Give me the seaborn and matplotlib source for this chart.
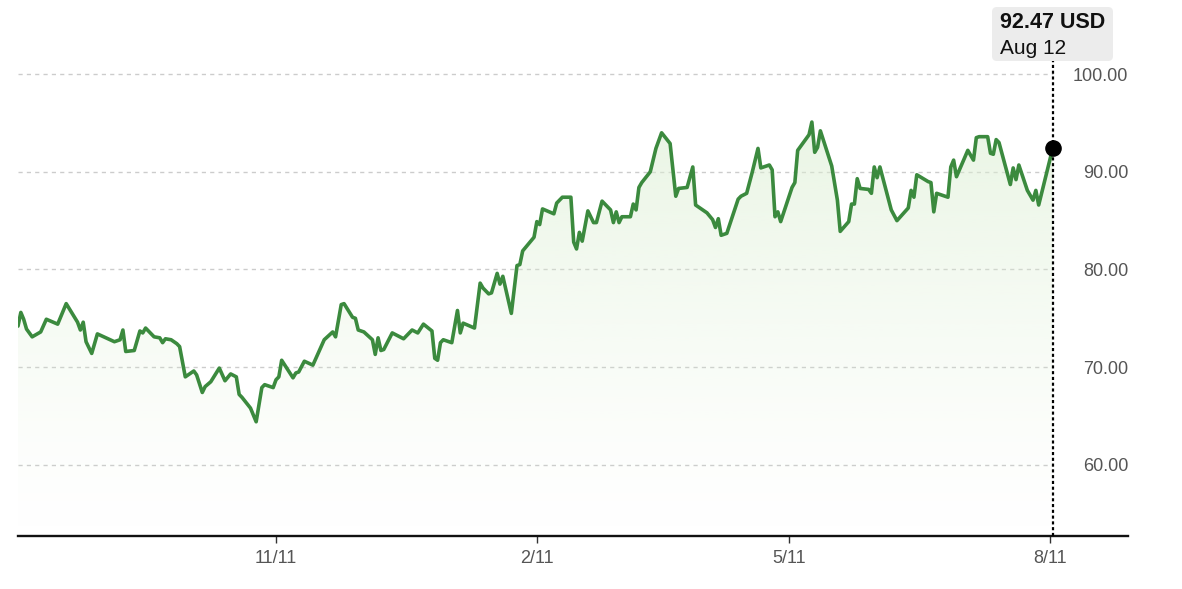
import numpy as np
import pandas as pd
import matplotlib
matplotlib.use("Agg")
import matplotlib.pyplot as plt
import matplotlib.dates as mdates
from matplotlib.colors import to_rgb
from matplotlib.patches import FancyBboxPatch
import seaborn as sns

# --- data (days since start date, closing price) ---
start_date = "2024-08-12"
end_view = "2025-09-07 12:00"

day_offset = [
    0, 1, 2, 3, 5, 8, 10, 14, 17, 21,
    22, 23, 24, 26, 28, 34, 36, 37, 38, 41,
    43, 44, 45, 48, 50, 51, 52, 54, 56, 57,
    59, 62, 63, 65, 66, 68, 71, 73, 75, 77,
    78, 79, 82, 84, 86, 87, 90, 91, 92, 93,
    97, 98, 99, 101, 104, 108, 111, 112, 114, 115,
    118, 119, 120, 122, 125, 126, 127, 128, 129, 132,
    136, 139, 141, 143, 146, 147, 148, 149, 150, 153,
    155, 156, 157, 161, 163, 164, 166, 167, 169, 170,
    171, 174, 176, 177, 178, 182, 183, 184, 185, 189,
    190, 192, 195, 196, 197, 198, 199, 201, 203, 204,
    206, 209, 210, 211, 212, 213, 216, 217, 218, 219,
    220, 223, 225, 227, 230, 232, 233, 236, 238, 239,
    241, 243, 245, 246, 247, 248, 250, 254, 255, 257,
    259, 261, 262, 265, 266, 267, 268, 269, 273, 274,
    275, 279, 280, 281, 282, 283, 287, 289, 290, 293,
    294, 295, 296, 297, 300, 301, 302, 303, 304, 308,
    310, 314, 315, 316, 317, 321, 322, 323, 324, 328,
    329, 330, 331, 335, 337, 338, 339, 342, 343, 344,
    345, 346, 350, 351, 352, 353, 356, 358, 359, 360,
    365,
]

price = [
    74.2, 75.6, 74.9, 73.9, 73.1, 73.6, 74.9, 74.4, 76.5, 74.6,
    73.8, 74.6, 72.6, 71.4, 73.4, 72.6, 72.8, 73.8, 71.6, 71.7,
    73.7, 73.5, 74.0, 73.1, 73.0, 72.5, 72.9, 72.8, 72.4, 72.1,
    69.0, 69.6, 69.2, 67.4, 68.0, 68.5, 69.9, 68.6, 69.3, 69.0,
    67.2, 66.9, 65.8, 64.4, 67.9, 68.2, 67.9, 68.7, 69.0, 70.7,
    68.9, 69.4, 69.5, 70.6, 70.2, 72.8, 73.6, 73.1, 76.4, 76.5,
    75.1, 75.0, 73.8, 73.6, 72.8, 71.3, 73.0, 71.7, 71.8, 73.5,
    72.9, 73.8, 73.5, 74.4, 73.7, 70.9, 70.7, 72.5, 72.8, 72.5,
    75.8, 73.5, 74.5, 74.0, 78.6, 78.1, 77.5, 77.6, 79.6, 78.5,
    79.3, 75.5, 80.4, 80.5, 81.9, 83.3, 84.9, 84.6, 86.2, 85.7,
    86.8, 87.4, 87.4, 82.8, 82.1, 83.8, 82.9, 86.0, 84.8, 84.8,
    87.0, 86.1, 84.8, 85.9, 84.8, 85.4, 85.4, 86.7, 86.1, 88.4,
    88.9, 90.0, 92.4, 94.0, 92.9, 87.5, 88.3, 88.4, 90.5, 86.6,
    86.2, 85.8, 85.1, 84.3, 85.2, 83.5, 83.7, 87.2, 87.5, 87.8,
    90.0, 92.4, 90.4, 90.7, 90.2, 85.4, 85.9, 84.9, 88.4, 88.9,
    92.2, 93.8, 95.1, 92.0, 92.5, 94.2, 90.6, 87.1, 83.9, 84.9,
    86.7, 86.7, 89.3, 88.3, 88.2, 87.8, 90.5, 89.4, 90.5, 86.1,
    85.0, 86.3, 88.1, 87.4, 89.7, 89.0, 88.9, 85.9, 87.8, 87.4,
    90.5, 91.2, 89.5, 92.2, 91.2, 93.5, 93.6, 93.6, 91.9, 91.8,
    93.3, 93.0, 88.7, 90.4, 89.2, 90.7, 88.1, 87.1, 88.1, 86.6,
    92.47,
]

tick_dates = ["2024-11-11", "2025-02-11", "2025-05-11", "2025-08-11"]
tick_labels = ["11/11", "2/11", "5/11", "8/11"]
y_ticks = [60, 70, 80, 90, 100]
tooltip_value = "92.47 USD"
tooltip_date = "Aug 12"

df = pd.DataFrame({
    "date": pd.to_datetime(start_date) + pd.to_timedelta(day_offset, unit="D"),
    "price": price,
})

sns.set_theme(style="white")
plt.rcParams["font.family"] = ["Liberation Sans", "DejaVu Sans"]

fig = plt.figure(figsize=(11.82, 5.89), dpi=100)
ax = fig.add_axes([18 / 1182, 53 / 589, 1110 / 1182, 536 / 589])

y_bottom, y_top = 52.7, 107.6
line_color = "#3b8a3e"

# grid lines only up to the last point
ax.hlines(y_ticks, df["date"].iloc[0], df["date"].iloc[-1],
          colors="#cccccc", linestyles=(0, (3, 3)), linewidth=1, zorder=1)

# soft green gradient under the line, fading out towards the bottom
poly = ax.fill_between(df["date"], df["price"], y_bottom, color="none", linewidth=0)
grad = np.zeros((256, 1, 4))
grad[..., :3] = to_rgb("#dcefd3")
grad[..., 3] = (np.linspace(0.0, 1.0, 256) ** 1.3 * 0.6).reshape(-1, 1)
x0 = mdates.date2num(df["date"].iloc[0])
x1 = mdates.date2num(df["date"].iloc[-1])
im = ax.imshow(grad, origin="lower", aspect="auto",
               extent=[x0, x1, y_bottom, max(price)], zorder=2)
im.set_clip_path(poly.get_paths()[0], transform=ax.transData)

sns.lineplot(data=df, x="date", y="price", ax=ax, color=line_color,
             linewidth=2.6, zorder=4)

last_date = df["date"].iloc[-1]
last_price = df["price"].iloc[-1]
ax.axvline(last_date, ymin=0, ymax=(536 - 61) / 536, color="black",
           linewidth=1.6, linestyle=(0, (1.4, 1.2)), zorder=5)
ax.scatter([last_date], [last_price], s=120, color="black", zorder=6)

ax.set_xlim(pd.Timestamp(start_date), pd.Timestamp(end_view))
ax.set_ylim(y_bottom, y_top)

# axes styling
for side in ["top", "left", "right"]:
    ax.spines[side].set_visible(False)
ax.spines["bottom"].set_color("#111111")
ax.spines["bottom"].set_linewidth(1.7)

ax.set_xticks(pd.to_datetime(tick_dates))
ax.set_xticklabels(tick_labels, family=["Liberation Sans Narrow", "Liberation Sans", "DejaVu Sans"])
ax.tick_params(axis="x", direction="out", length=5, width=1, color="#333333",
               labelsize=13, labelcolor="#555555", pad=5, bottom=True)

ax.yaxis.tick_right()
ax.set_yticks(y_ticks)
ax.set_yticklabels([f"{v:.2f}" for v in y_ticks])
ax.tick_params(axis="y", length=0, pad=0, labelsize=13, labelcolor="#555555")
for lbl in ax.get_yticklabels():
    lbl.set_horizontalalignment("right")
ax.set_xlabel("")
ax.set_ylabel("")
ax.grid(False)

# tooltip box
box = FancyBboxPatch((9.92, 5.28), 1.21, 0.54,
                     boxstyle="round,pad=0,rounding_size=0.05",
                     transform=fig.dpi_scale_trans, facecolor="#ececec",
                     edgecolor="none", zorder=10)
fig.patches.append(box)
fig.text(10.0, 5.67, tooltip_value, transform=fig.dpi_scale_trans,
         fontsize=15.5, fontweight="bold", color="#111111", va="center",
         ha="left", zorder=11)
fig.text(10.0, 5.41, tooltip_date, transform=fig.dpi_scale_trans,
         fontsize=15, color="#111111", va="center", ha="left", zorder=11)

fig.savefig("out.png", dpi=100)
